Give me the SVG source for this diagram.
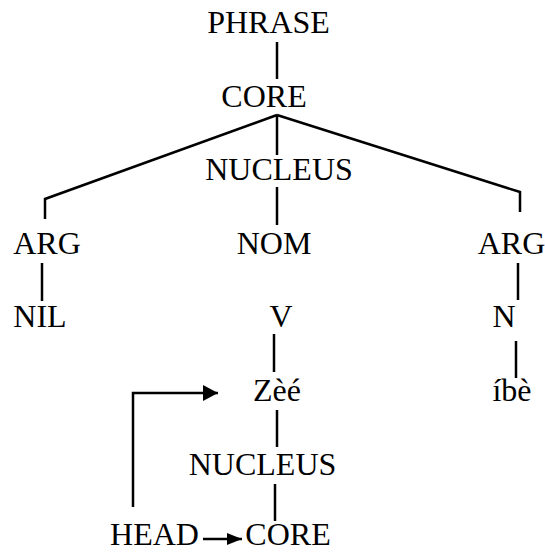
<svg xmlns="http://www.w3.org/2000/svg" width="545" height="552" viewBox="0 0 545 552">
  <style>
    .edge { stroke: #000; stroke-width: 2.5; fill: none; }
    .lbl { font-family: 'Liberation Serif', 'Times New Roman', Times, serif; font-size: 32px; fill: #000; text-anchor: middle; }
  </style>
  <defs>
    <marker id="arrowBig" viewBox="0 0 15 16" refX="15" refY="8" markerWidth="15" markerHeight="16" markerUnits="userSpaceOnUse" orient="auto">
      <path d="M0,0 L15,8 L0,16 Z" fill="#000"/>
    </marker>
    <marker id="arrowSmall" viewBox="0 0 15 12" refX="15" refY="6" markerWidth="15" markerHeight="12" markerUnits="userSpaceOnUse" orient="auto">
      <path d="M0,0 L15,6 L0,12 Z" fill="#000"/>
    </marker>
  </defs>
  <rect width="545" height="552" fill="#fff"/>

  <g id="connectors">
    <line class="edge" x1="277" y1="42" x2="277" y2="79"/>
    <polyline class="edge" points="277,115 45,199 45,219"/>
    <line class="edge" x1="277" y1="115" x2="277" y2="155"/>
    <polyline class="edge" points="277,115 520,192 520,212"/>
    <line class="edge" x1="277" y1="187" x2="277" y2="225"/>
    <line class="edge" x1="42" y1="263" x2="42" y2="301"/>
    <line class="edge" x1="518" y1="263" x2="518" y2="300"/>
    <line class="edge" x1="274" y1="334" x2="274" y2="372"/>
    <line class="edge" x1="516" y1="341" x2="516" y2="378"/>
    <line class="edge" x1="277" y1="410" x2="277" y2="447"/>
    <line class="edge" x1="275" y1="484" x2="275" y2="521"/>
    <polyline class="edge" points="133,507 133,393 218,393" marker-end="url(#arrowBig)"/>
    <line class="edge" x1="203" y1="539" x2="242" y2="539" marker-end="url(#arrowSmall)"/>
  </g>

  <g id="phrase"><text class="lbl" x="268.5" y="33">PHRASE</text></g>
  <g id="core"><text class="lbl" x="264" y="107">CORE</text></g>
  <g id="nucleus"><text class="lbl" x="279" y="180">NUCLEUS</text></g>
  <g id="arg-left"><text class="lbl" x="47" y="254">ARG</text></g>
  <g id="nom"><text class="lbl" x="274" y="254">NOM</text></g>
  <g id="arg-right"><text class="lbl" x="511.5" y="254">ARG</text></g>
  <g id="nil"><text class="lbl" x="40" y="327">NIL</text></g>
  <g id="v"><text class="lbl" x="281" y="327">V</text></g>
  <g id="n"><text class="lbl" x="504" y="327">N</text></g>
  <g id="zee"><text class="lbl" x="277" y="401">Z&#232;&#233;</text></g>
  <g id="ibe"><text class="lbl" x="512" y="401">&#237;b&#232;</text></g>
  <g id="nucleus-2"><text class="lbl" x="262.5" y="475">NUCLEUS</text></g>
  <g id="head"><text class="lbl" x="154.5" y="545">HEAD</text></g>
  <g id="core-2"><text class="lbl" x="288" y="545">CORE</text></g>
</svg>
